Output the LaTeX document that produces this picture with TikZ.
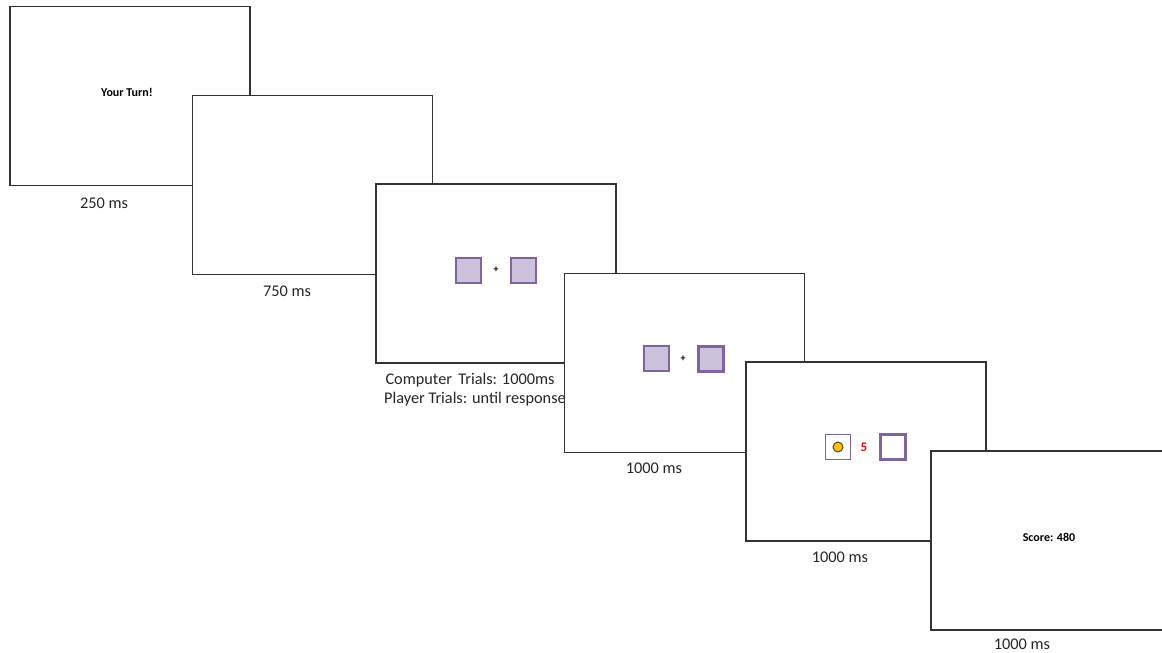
\documentclass[tikz,border=0pt]{standalone}
\usepackage{fontspec}
\setmainfont{Carlito}
\definecolor{pborder}{HTML}{8064A2}
\definecolor{pfill}{HTML}{CCC1DA}
\definecolor{goldc}{HTML}{FFC000}
\begin{document}
\begin{tikzpicture}[x=1pt,y=-1pt,
  screen/.style={draw=black!80, line width=1.1pt, fill=white, minimum width=240pt, minimum height=179pt, inner sep=0pt},
  lbl/.style={font=\fontsize{16.3}{19}\selectfont, text=black!85, inner sep=0pt},
  screentext/.style={font=\bfseries\fontsize{12}{14}\selectfont, inner sep=0pt},
  sq/.style={draw=pborder, fill=pfill, line width=1.6pt, minimum size=25pt, inner sep=0pt},
  sqthick/.style={sq, line width=3pt},
  sqwhite/.style={sq, fill=white},
  plussign/.style={font=\bfseries\fontsize{10}{10}\selectfont, inner sep=0pt}]
\useasboundingbox (0,0) rectangle (1162,653);
\clip (0,0) rectangle (1162,653);
\fill[white] (0,0) rectangle (1162,653);
% frame 1
\node[screen] (f1) at (130,96) {};
\node[screentext] (t1) at (127,92) {Your Turn!};
\node[lbl] (c1) at (104,203) {250 ms};
% frame 2
\node[screen] (f2) at (312.5,185) {};
\node[lbl] (c2) at (287,291) {750 ms};
% frame 3
\node[screen] (f3) at (496,273.5) {};
\node[sq] (s3a) at (468.5,270.5) {};
\node[plussign] (p3) at (496,270) {+};
\node[sq] (s3b) at (523.5,270.5) {};
\node[lbl] (c3a) at (470,380) {Computer\, Trials: 1000ms};
\node[lbl] (c3b) at (475,399) {Player Trials: until response};
% frame 4
\node[screen] (f4) at (684.5,363) {};
\node[sq] (s4a) at (656.5,358.5) {};
\node[plussign] (p4) at (683,359) {+};
\node[sqthick] (s4b) at (710.5,358.5) {};
\node[lbl] (c4) at (654,468) {1000 ms};
% frame 5
\node[screen] (f5) at (866,451.5) {};
\node[sqwhite, line width=1.4pt] (s5a) at (838,447) {};
\node[circle, draw=black!60!olive, fill=goldc, line width=1pt, minimum size=10pt, inner sep=0pt] (dot) at (838,447) {};
\node[font=\bfseries\fontsize{13}{14}\selectfont, text=red, inner sep=0pt] (n5) at (864,447) {5};
\node[sqwhite, line width=3pt] (s5b) at (893,447) {};
\node[lbl] (c5) at (840,557) {1000 ms};
% frame 6
\node[screen] (f6) at (1051,540.5) {};
\node[screentext] (t6) at (1049,537) {Score: 480};
\node[lbl] (c6) at (1022,644.5) {1000 ms};
\end{tikzpicture}
\end{document}
